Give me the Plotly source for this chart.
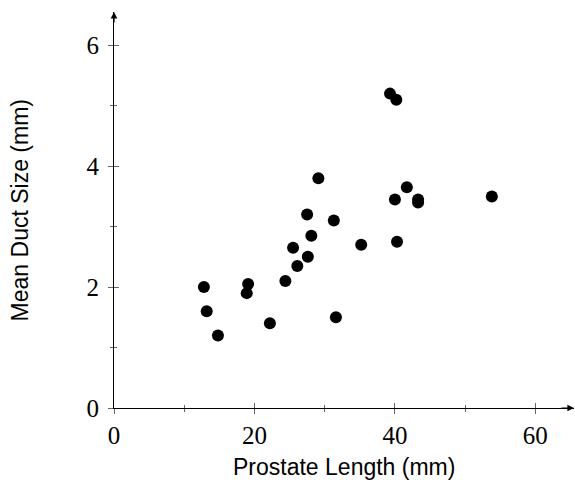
import plotly.graph_objects as go

# Data
prostate_length = [12.8, 13.2, 14.8, 18.9, 19.1, 22.2, 24.4, 25.5, 26.1, 27.5,
                   27.6, 28.1, 29.1, 31.3, 31.6, 35.2, 39.3, 40.2, 40.0, 40.3,
                   41.7, 43.3, 43.3, 53.8]
mean_duct_size = [2.00, 1.60, 1.20, 1.90, 2.05, 1.40, 2.10, 2.65, 2.35, 3.20,
                  2.50, 2.85, 3.80, 3.10, 1.50, 2.70, 5.20, 5.10, 3.45, 2.75,
                  3.65, 3.45, 3.40, 3.50]

x_ticks = [0, 20, 40, 60]
x_minor = [10, 30, 50]
y_ticks = [0, 2, 4, 6]
y_minor = [1, 3, 5]
x_title = "Prostate Length (mm)"
y_title = "Mean Duct Size (mm)"

X_MAX = 65.5
Y_MAX = 6.55

tick_font = dict(family="Liberation Serif", size=25, color="black")
title_font = dict(family="Liberation Sans", size=23, color="black")
TICK_COLOR = "#666666"

fig = go.Figure()
fig.add_trace(go.Scatter(
    x=prostate_length, y=mean_duct_size, mode="markers",
    marker=dict(size=12, color="black", line=dict(width=0)),
    showlegend=False, cliponaxis=False,
))
# dummy trace for the overlaid (inner-tick) axes
fig.add_trace(go.Scatter(x=[None], y=[None], xaxis="x2", yaxis="y2",
                         showlegend=False, hoverinfo="skip"))

common = dict(showgrid=False, zeroline=False, tickcolor=TICK_COLOR, tickwidth=1)

fig.update_layout(
    width=575, height=482,
    margin=dict(l=114, r=1, t=12, b=74),
    paper_bgcolor="white", plot_bgcolor="white",
    xaxis=dict(range=[0, X_MAX], tickmode="array", tickvals=x_ticks,
               ticktext=[str(v) for v in x_ticks], ticks="outside", ticklen=5,
               minor=dict(tickmode="array", tickvals=x_minor, ticks="outside",
                          ticklen=3, tickcolor=TICK_COLOR, tickwidth=1),
               showline=True, linecolor="black", linewidth=1,
               tickfont=tick_font, **common),
    yaxis=dict(range=[0, Y_MAX], tickmode="array", tickvals=y_ticks,
               ticktext=[str(v) for v in y_ticks], ticks="outside", ticklen=5,
               ticklabelstandoff=4,
               minor=dict(tickmode="array", tickvals=y_minor, ticks="outside",
                          ticklen=3, tickcolor=TICK_COLOR, tickwidth=1),
               showline=True, linecolor="black", linewidth=1,
               tickfont=tick_font, **common),
    xaxis2=dict(range=[0, X_MAX], overlaying="x", anchor="y2", tickmode="array",
                tickvals=x_ticks, ticks="inside", ticklen=5, showticklabels=False,
                minor=dict(tickmode="array", tickvals=x_minor, ticks="inside",
                           ticklen=3, tickcolor=TICK_COLOR, tickwidth=1),
                showline=False, **common),
    yaxis2=dict(range=[0, Y_MAX], overlaying="y", anchor="x2", tickmode="array",
                tickvals=y_ticks, ticks="inside", ticklen=5, showticklabels=False,
                minor=dict(tickmode="array", tickvals=y_minor, ticks="inside",
                           ticklen=3, tickcolor=TICK_COLOR, tickwidth=1),
                showline=False, **common),
)

# axis arrowheads
fig.add_annotation(x=X_MAX, y=0, ax=X_MAX - 2, ay=0, xref="x", yref="y",
                   axref="x", ayref="y", text="", showarrow=True,
                   arrowhead=2, arrowsize=1.1, arrowwidth=1.2, arrowcolor="black")
fig.add_annotation(x=0, y=Y_MAX, ax=0, ay=Y_MAX - 0.2, xref="x", yref="y",
                   axref="x", ayref="y", text="", showarrow=True,
                   arrowhead=2, arrowsize=1.1, arrowwidth=1.2, arrowcolor="black")

# axis titles
fig.add_annotation(x=0.5, y=-0.148, xref="paper", yref="paper", text=x_title,
                   showarrow=False, font=title_font, xanchor="center", yanchor="middle")
fig.add_annotation(x=-0.2035, y=0.5, xref="paper", yref="paper", text=y_title,
                   textangle=-90, showarrow=False, font=title_font,
                   xanchor="center", yanchor="middle")

fig.write_html("out.html", config={"displayModeBar": False},
               post_script="document.body.style.margin='0';document.body.style.padding='0';")
